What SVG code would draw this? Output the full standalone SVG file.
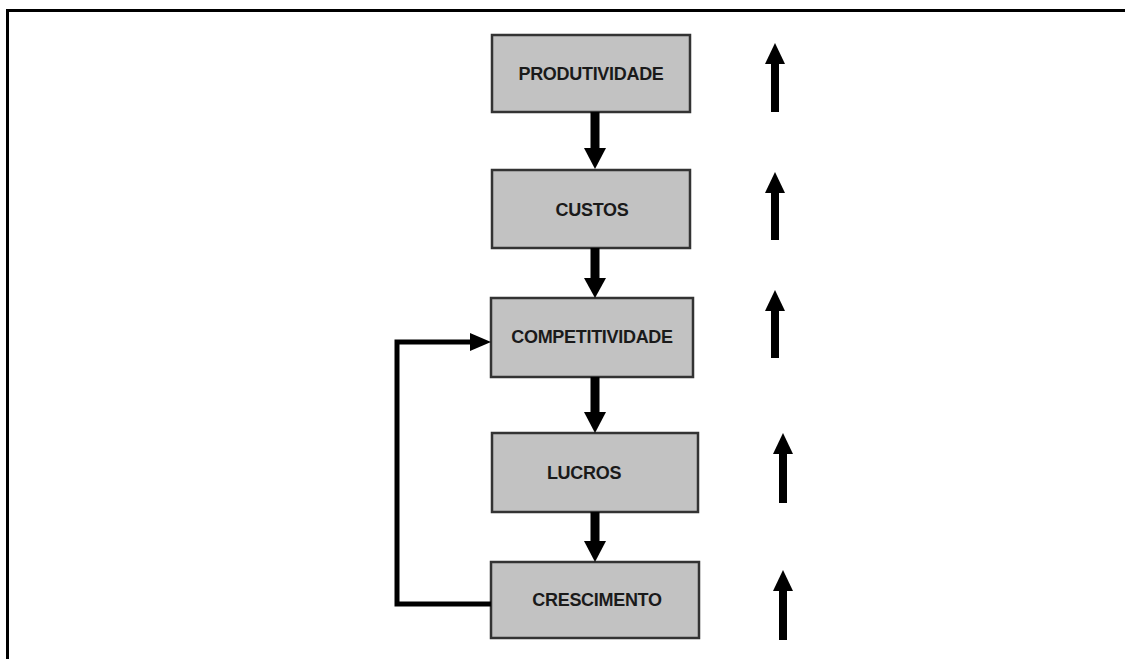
<svg xmlns="http://www.w3.org/2000/svg" width="1125" height="659" viewBox="0 0 1125 659">
  <style>
    .box { fill: #c2c2c2; stroke: #333333; stroke-width: 2.5; }
    .label { font-family: "Liberation Sans", Arial, sans-serif; font-weight: bold; font-size: 18px; fill: #1a1a1a; text-anchor: middle; letter-spacing: -0.3px; }
    .shaft { stroke: #000000; stroke-width: 9; fill: none; }
    .loop { stroke: #000000; stroke-width: 5; fill: none; }
    .head { fill: #000000; }
    .up { stroke: #000000; stroke-width: 8; fill: none; }
  </style>

  <rect width="1125" height="659" fill="#ffffff"/>
  <!-- frame: only the top and left edges fall inside the canvas -->
  <path d="M7.5 670 V10.5 H1140" fill="none" stroke="#000000" stroke-width="3"/>

  <g id="node-produtividade">
    <rect class="box" x="492" y="35" width="198" height="77"/>
    <text class="label" x="591" y="80">PRODUTIVIDADE</text>
  </g>
  <g id="node-custos">
    <rect class="box" x="492" y="170" width="198" height="78"/>
    <text class="label" x="592" y="216">CUSTOS</text>
  </g>
  <g id="node-competitividade">
    <rect class="box" x="491" y="298" width="202" height="79"/>
    <text class="label" x="592" y="343">COMPETITIVIDADE</text>
  </g>
  <g id="node-lucros">
    <rect class="box" x="492" y="433" width="206" height="79"/>
    <text class="label" x="584" y="479">LUCROS</text>
  </g>
  <g id="node-crescimento">
    <rect class="box" x="491" y="562" width="208" height="76"/>
    <text class="label" x="597" y="606">CRESCIMENTO</text>
  </g>

  <g id="connectors">
    <!-- chain of downward arrows -->
    <line class="shaft" x1="595" y1="112" x2="595" y2="150"/>
    <polygon class="head" points="584,148 606,148 595,169"/>
    <line class="shaft" x1="595" y1="248" x2="595" y2="280"/>
    <polygon class="head" points="584,278 606,278 595,298"/>
    <line class="shaft" x1="595" y1="377" x2="595" y2="414"/>
    <polygon class="head" points="584,412 606,412 595,433"/>
    <line class="shaft" x1="595" y1="512" x2="595" y2="543"/>
    <polygon class="head" points="584,541 606,541 595,562"/>
    <!-- feedback loop from growth back to competitiveness -->
    <polyline class="loop" points="491,604 397,604 397,342 472,342"/>
    <polygon class="head" points="470,333 491,342 470,351"/>
  </g>

  <g id="trend-arrows">
    <line class="up" x1="775" y1="112" x2="775" y2="60"/>
    <polygon class="head" points="765,64 785,64 775,43"/>
    <line class="up" x1="775" y1="240" x2="775" y2="190"/>
    <polygon class="head" points="765,193 785,193 775,172"/>
    <line class="up" x1="775" y1="358" x2="775" y2="308"/>
    <polygon class="head" points="765,311 785,311 775,290"/>
    <line class="up" x1="783" y1="503" x2="783" y2="450"/>
    <polygon class="head" points="773,454 793,454 783,433"/>
    <line class="up" x1="783" y1="640" x2="783" y2="588"/>
    <polygon class="head" points="773,591 793,591 783,570"/>
  </g>
</svg>
